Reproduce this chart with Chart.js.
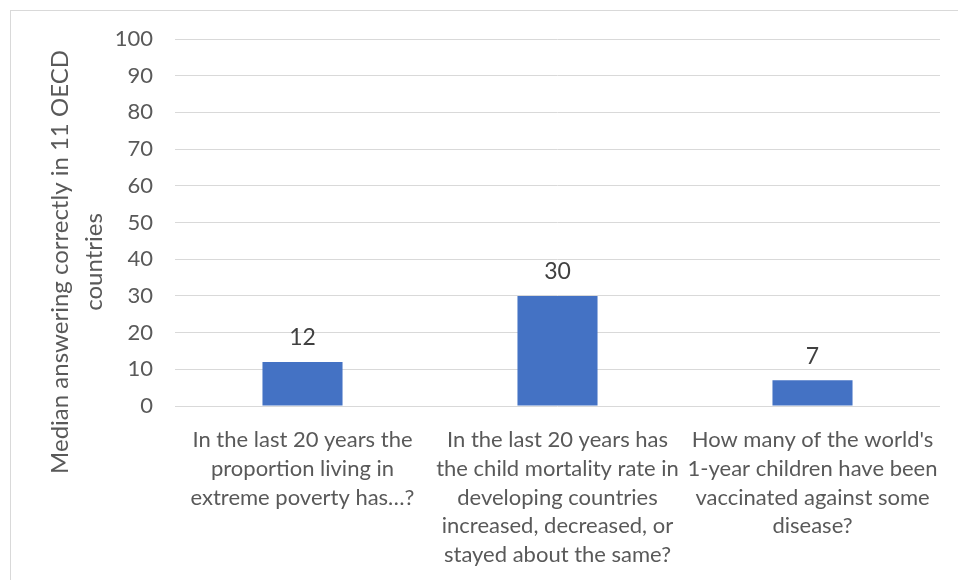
<!DOCTYPE html>
<html>
<head>
<meta charset="utf-8">
<script src="https://cdn.jsdelivr.net/npm/chart.js@4/dist/chart.umd.min.js"></script>
<style>
  body { margin: 0; background: #fff; }
  #wrap { position: relative; width: 958px; height: 580px; overflow: hidden; }
  #frame { position: absolute; left: 10px; top: 10px; width: 1000px; height: 1000px; border: 1px solid #d9d9d9; }
  #chart { position: absolute; left: 0; top: 0; }
</style>
</head>
<body>
<div id="wrap">
  <div id="frame"></div>
  <canvas id="chart" width="958" height="580"></canvas>
</div>
<script>
const categories = [
  ['In the last 20 years the', 'proportion living in', 'extreme poverty has…?'],
  ['In the last 20 years has', 'the child mortality rate in', 'developing countries', 'increased, decreased, or', 'stayed about the same?'],
  ["How many of the world's", '1-year children have been', 'vaccinated against some', 'disease?']
]
const values = [12, 30, 7]
const yTicks = [0, 10, 20, 30, 40, 50, 60, 70, 80, 90, 100]
const yTitle = ['Median answering correctly in 11 OECD', 'countries']

const FONT = 'Lato, "Open Sans", sans-serif'
const GREY = '#595959'

// value labels above each bar
const barLabels = {
  id: 'barLabels',
  afterDatasetsDraw (chart) {
    const ctx = chart.ctx
    const meta = chart.getDatasetMeta(0)
    ctx.save()
    ctx.font = '23px ' + FONT
    ctx.fillStyle = '#404040'
    ctx.textAlign = 'center'
    ctx.textBaseline = 'middle'
    meta.data.forEach((bar, i) => {
      ctx.fillText(String(values[i]), bar.x, bar.y - 24)
    })
    ctx.restore()
  }
}

// rotated two-line y axis title (Excel centres it a bit lower than the plot)
const yTitlePlugin = {
  id: 'yTitle',
  afterDraw (chart) {
    const ctx = chart.ctx
    ctx.save()
    ctx.font = '24px ' + FONT
    ctx.fillStyle = GREY
    ctx.textAlign = 'center'
    ctx.textBaseline = 'alphabetic'
    yTitle.forEach((line, i) => {
      ctx.save()
      ctx.translate(68 + i * 34, 262)
      ctx.rotate(-Math.PI / 2)
      ctx.fillText(line, 0, 0)
      ctx.restore()
    })
    ctx.restore()
  }
}

new Chart(document.getElementById('chart').getContext('2d'), {
  type: 'bar',
  data: {
    labels: categories,
    datasets: [{
      data: values,
      backgroundColor: '#4472C4',
      categoryPercentage: 1,
      barPercentage: 0.314
    }]
  },
  options: {
    responsive: false,
    animation: false,
    layout: { padding: { left: 40, top: 39, right: 18, bottom: 0 } },
    plugins: { legend: { display: false }, tooltip: { enabled: false } },
    scales: {
      x: {
        grid: { display: false },
        border: { display: false },
        ticks: {
          color: GREY,
          font: { family: FONT, size: 22, lineHeight: 1.3 },
          maxRotation: 0,
          autoSkip: false,
          padding: 12
        },
        afterFit (scale) { scale.height = 174 }
      },
      y: {
        min: 0,
        max: 100,
        afterBuildTicks (scale) { scale.ticks = yTicks.map(v => ({ value: v })) },
        grid: { color: '#d9d9d9', drawTicks: false },
        border: { display: false },
        ticks: {
          color: GREY,
          font: { family: FONT, size: 22 },
          padding: 22
        },
        afterFit (scale) { scale.width = 135 }
      }
    }
  },
  plugins: [barLabels, yTitlePlugin]
})
</script>
</body>
</html>
